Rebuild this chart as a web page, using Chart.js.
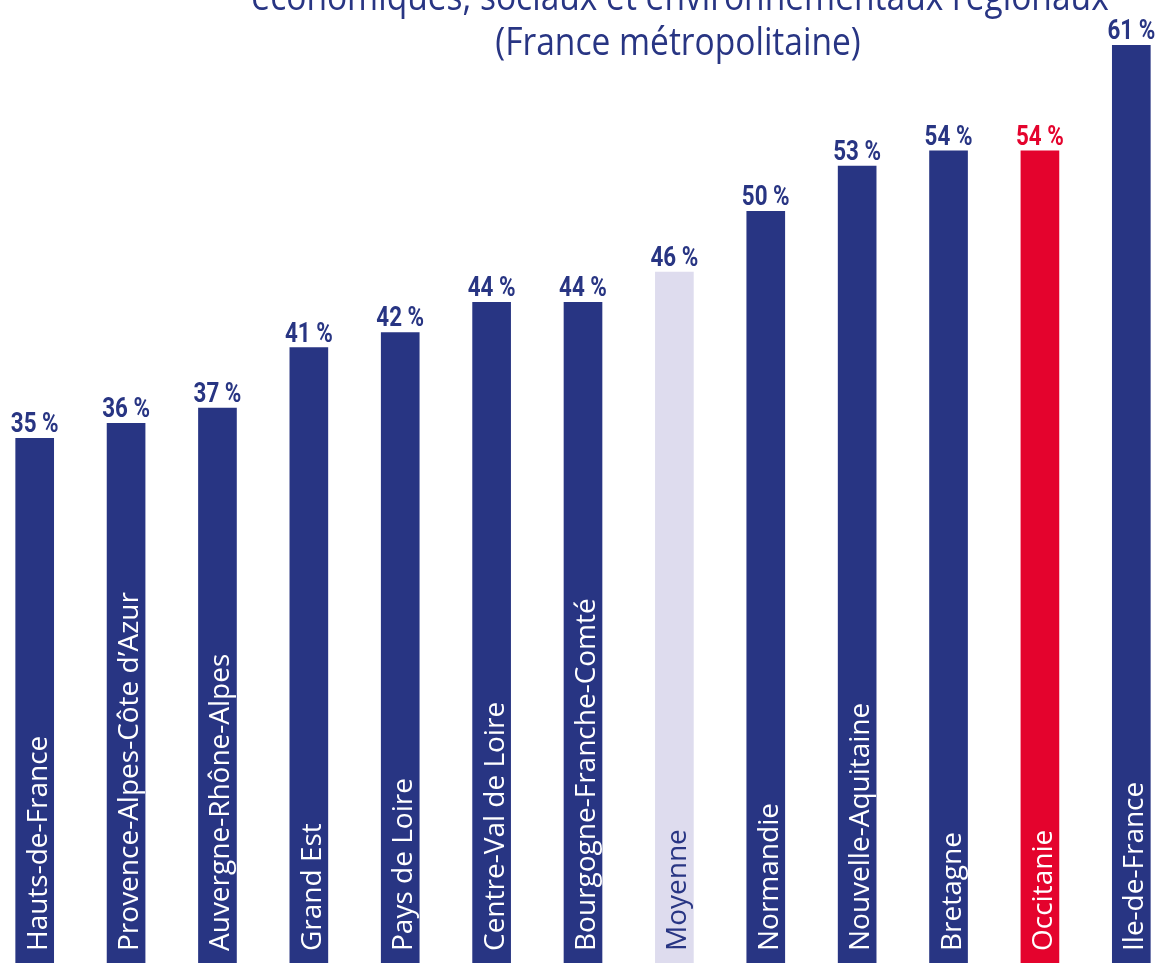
<!DOCTYPE html>
<html>
<head>
<meta charset="utf-8">
<script src="https://cdn.jsdelivr.net/npm/chart.js@4/dist/chart.umd.min.js"></script>
<style>
  html, body { margin: 0; padding: 0; background: #fff; overflow: hidden; }
  #wrap { position: relative; width: 1157px; height: 963px; overflow: hidden; }
  #chart { position: absolute; left: -11px; top: 0; }
</style>
</head>
<body>
<div id="wrap">
  <canvas id="chart" width="1188" height="968"></canvas>
</div>
<script>
// title lines (first one is cut by the top edge)
const titleLines = [
  "économiques, sociaux et environnementaux régionaux",
  "(France métropolitaine)",
];
const regions = [
  "Hauts-de-France",
  "Provence-Alpes-Côte d’Azur",
  "Auvergne-Rhône-Alpes",
  "Grand Est",
  "Pays de Loire",
  "Centre-Val de Loire",
  "Bourgogne-Franche-Comté",
  "Moyenne",
  "Normandie",
  "Nouvelle-Aquitaine",
  "Bretagne",
  "Occitanie",
  "Ile-de-France",
];
const shares = [35, 36, 37, 41, 42, 44, 44, 46, 50, 53, 54, 54, 61];

const NAVY = "#283583";
const RED = "#e4032d";
const LAVENDER = "#dedcee";

function barColor(name) {
  if (name === "Moyenne") return LAVENDER;
  if (name === "Occitanie") return RED;
  return NAVY;
}

// draw text squeezed horizontally, the source uses a condensed face
function narrowText(c, text, x, y, squeeze) {
  c.save();
  c.translate(x, y);
  c.scale(squeeze, 1);
  c.fillText(text, 0, 0);
  c.restore();
}

const labelPlugin = {
  id: "barLabels",
  afterDatasetsDraw(chart) {
    const c = chart.ctx;
    const meta = chart.getDatasetMeta(0);
    meta.data.forEach(function (bar, i) {
      const name = regions[i];
      // value above bar
      c.save();
      c.font = "bold 28px Roboto";
      c.fillStyle = name === "Occitanie" ? RED : NAVY;
      c.textAlign = "center";
      c.textBaseline = "alphabetic";
      narrowText(c, shares[i] + " %", bar.x, bar.y - 6, 0.8);
      c.restore();
      // region name inside bar, bottom to top
      c.save();
      c.translate(bar.x + 12, 951);
      c.rotate(-Math.PI / 2);
      c.font = "28px 'Open Sans'";
      c.fillStyle = name === "Moyenne" ? NAVY : "#ffffff";
      c.textAlign = "left";
      c.textBaseline = "alphabetic";
      c.fillText(name, 0, 0);
      c.restore();
    });
  },
};

const titlePlugin = {
  id: "topTitle",
  afterDraw(chart) {
    const c = chart.ctx;
    c.save();
    c.font = "39px 'Open Sans'";
    c.fillStyle = NAVY;
    c.textAlign = "center";
    c.textBaseline = "alphabetic";
    narrowText(c, titleLines[0], 691, 10, 0.86);
    narrowText(c, titleLines[1], 689, 55, 0.86);
    c.restore();
  },
};

new Chart(document.getElementById("chart"), {
  type: "bar",
  data: {
    labels: regions,
    datasets: [
      {
        data: shares,
        backgroundColor: regions.map(barColor),
        barThickness: 38,
        borderWidth: 0,
      },
    ],
  },
  options: {
    responsive: false,
    animation: false,
    devicePixelRatio: 1,
    layout: { padding: { top: 45, bottom: 0, left: 0, right: 0 } },
    plugins: {
      legend: { display: false },
      tooltip: { enabled: false },
      title: { display: false },
    },
    scales: {
      x: { display: false, grid: { display: false } },
      y: { display: false, min: 0, max: 61 },
    },
  },
  plugins: [labelPlugin, titlePlugin],
});
</script>
</body>
</html>
